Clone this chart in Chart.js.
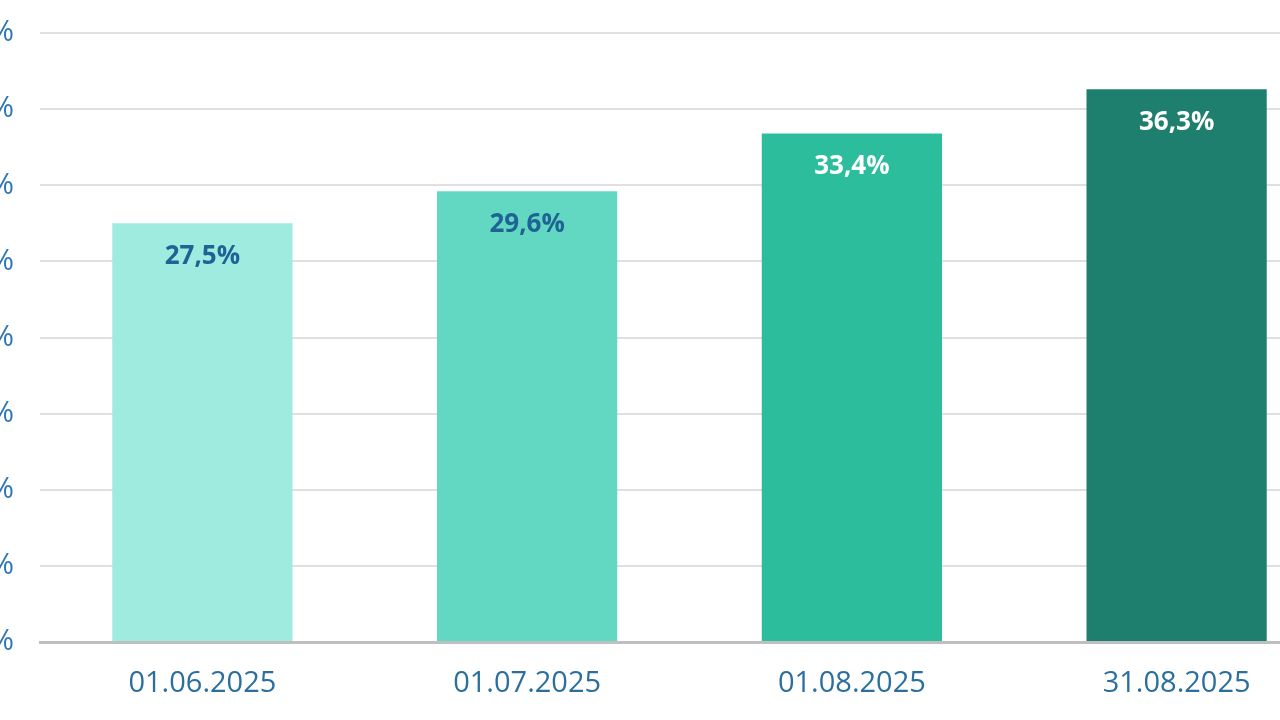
<!DOCTYPE html>
<html>
<head>
<meta charset="utf-8">
<script src="https://cdn.jsdelivr.net/npm/chart.js@4/dist/chart.umd.min.js"></script>
<style>
    html, body { margin: 0; padding: 0; background: #ffffff; overflow: hidden; }
    #wrap { position: absolute; left: -60px; top: 0; width: 1400px; height: 720px; }
</style>
</head>
<body>
<div id="wrap"><canvas id="shareChart"></canvas></div>
<script>
// datos del gráfico
const dates = ['01.06.2025', '01.07.2025', '01.08.2025', '31.08.2025'];
const shares = [27.5, 29.6, 33.4, 36.3];
const yTicks = [0, 5, 10, 15, 20, 25, 30, 35, 40];

const barColors = ['#a0ebe0', '#62d8c3', '#2bbd9c', '#1f7f6e'];
const labelColors = ['#1f6395', '#1f6395', '#ffffff', '#ffffff'];

// etiquetas de valor dentro de cada barra
const valueLabels = {
    id: 'valueLabels',
    afterDatasetsDraw(chart) {
        const ctx = chart.ctx;
        const meta = chart.getDatasetMeta(0);
        ctx.save();
        ctx.font = 'bold 26px "Open Sans"';
        ctx.textAlign = 'center';
        ctx.textBaseline = 'middle';
        meta.data.forEach((bar, i) => {
            ctx.fillStyle = labelColors[i];
            const text = shares[i].toFixed(1).replace('.', ',') + '%';
            ctx.fillText(text, bar.x, bar.y + 33);
        });
        ctx.restore();
    }
};

new Chart(document.getElementById('shareChart'), {
    type: 'bar',
    data: {
        labels: dates,
        datasets: [{
            data: shares,
            backgroundColor: barColors,
            borderWidth: 0,
            categoryPercentage: 1,
            barPercentage: 0.555
        }]
    },
    options: {
        responsive: true,
        maintainAspectRatio: false,
        animation: false,
        layout: { padding: { top: 33, right: 1, left: 0, bottom: 0 } },
        plugins: {
            legend: { display: false },
            tooltip: { enabled: false }
        },
        scales: {
            x: {
                grid: { display: false, drawTicks: false },
                border: { color: '#bfbfbf', width: 3 },
                ticks: {
                    color: '#2b6f9e',
                    padding: 24,
                    font: { family: '"Open Sans"', size: 29 }
                },
                afterFit(scale) {
                    scale.height = 78;
                    scale.paddingLeft = 0;
                    scale.paddingRight = 0;
                }
            },
            y: {
                min: 0,
                max: 40,
                afterBuildTicks(scale) {
                    scale.ticks = yTicks.map(v => ({ value: v }));
                },
                grid: { color: '#e0e0e0', lineWidth: 2, drawTicks: false },
                border: { display: false },
                ticks: {
                    color: '#2e75b6',
                    padding: 26,
                    font: { family: '"Open Sans"', size: 29 },
                    callback: v => v + '%'
                },
                afterFit(scale) {
                    scale.width = 100;
                    scale.paddingTop = 0;
                    scale.paddingBottom = 0;
                }
            }
        }
    },
    plugins: [valueLabels]
});
</script>
</body>
</html>
